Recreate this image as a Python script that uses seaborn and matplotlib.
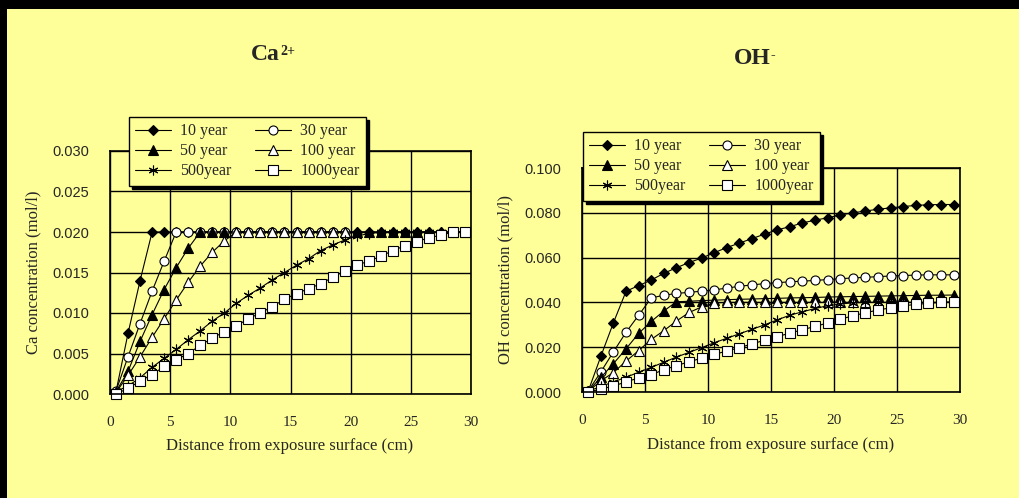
import matplotlib
matplotlib.use("Agg")
import matplotlib.pyplot as plt
import seaborn as sns
from matplotlib.patches import Rectangle
from matplotlib.ticker import FormatStrFormatter

# ---------------------------------------------------------------- data
# depth of each computed point (cm)
depth = [0.5, 1.5, 2.5, 3.5, 4.5, 5.5, 6.5, 7.5, 8.5, 9.5,
         10.5, 11.5, 12.5, 13.5, 14.5, 15.5, 16.5, 17.5, 18.5, 19.5,
         20.5, 21.5, 22.5, 23.5, 24.5, 25.5, 26.5, 27.5, 28.5, 29.5]

labels = ["10 year", "30 year", "50 year", "100 year", "500year", "1000year"]

# Ca2+ concentration (mol/l)
ca_10 = [0.0003, 0.0075, 0.0140, 0.0200, 0.0200, 0.0200, 0.0200, 0.0200, 0.0200, 0.0200,
         0.0200, 0.0200, 0.0200, 0.0200, 0.0200, 0.0200, 0.0200, 0.0200, 0.0200, 0.0200,
         0.0200, 0.0200, 0.0200, 0.0200, 0.0200, 0.0200, 0.0200, 0.0200, 0.0200, 0.0200]
ca_30 = [0.0004, 0.0046, 0.0087, 0.0127, 0.0164, 0.0200, 0.0200, 0.0200, 0.0200, 0.0200,
         0.0200, 0.0200, 0.0200, 0.0200, 0.0200, 0.0200, 0.0200, 0.0200, 0.0200, 0.0200]
ca_50 = [0.0003, 0.0028, 0.0065, 0.0098, 0.0129, 0.0156, 0.0180, 0.0200, 0.0200, 0.0200,
         0.0200, 0.0200, 0.0200, 0.0200, 0.0200, 0.0200, 0.0200, 0.0200, 0.0200, 0.0200,
         0.0200, 0.0200, 0.0200, 0.0200, 0.0200, 0.0200, 0.0200, 0.0200, 0.0200, 0.0200]
ca_100 = [0.0002, 0.0023, 0.0046, 0.0070, 0.0093, 0.0116, 0.0138, 0.0158, 0.0175, 0.0189,
          0.0200, 0.0200, 0.0200, 0.0200, 0.0200, 0.0200, 0.0200, 0.0200, 0.0200, 0.0200]
ca_500 = [0.0003, 0.0010, 0.0020, 0.0033, 0.0044, 0.0055, 0.0067, 0.0078, 0.0090, 0.0100,
          0.0112, 0.0122, 0.0131, 0.0141, 0.0150, 0.0159, 0.0167, 0.0177, 0.0184, 0.0190,
          0.0195, 0.0198, 0.0200, 0.0200, 0.0200, 0.0200, 0.0200, 0.0200, 0.0200, 0.0200]
ca_1000 = [0.0000, 0.0007, 0.0016, 0.0024, 0.0034, 0.0042, 0.0050, 0.0060, 0.0069, 0.0077,
           0.0084, 0.0093, 0.0100, 0.0108, 0.0117, 0.0124, 0.0130, 0.0136, 0.0144, 0.0152,
           0.0159, 0.0164, 0.0170, 0.0177, 0.0183, 0.0188, 0.0193, 0.0196, 0.0200, 0.0200]

# OH- concentration (mol/l)
oh_10 = [0.0005, 0.0160, 0.0310, 0.0450, 0.0475, 0.0500, 0.0530, 0.0555, 0.0578, 0.0598,
         0.0622, 0.0645, 0.0665, 0.0685, 0.0705, 0.0724, 0.0738, 0.0755, 0.0767, 0.0778,
         0.0790, 0.0800, 0.0808, 0.0816, 0.0822, 0.0828, 0.0833, 0.0836, 0.0837, 0.0837]
oh_30 = [0.0005, 0.0090, 0.0180, 0.0267, 0.0343, 0.0420, 0.0432, 0.0440, 0.0445, 0.0450,
         0.0456, 0.0464, 0.0472, 0.0478, 0.0484, 0.0488, 0.0492, 0.0495, 0.0498, 0.0502,
         0.0506, 0.0509, 0.0512, 0.0515, 0.0518, 0.0520, 0.0522, 0.0523, 0.0523, 0.0523]
oh_50 = [0.0005, 0.0065, 0.0127, 0.0193, 0.0262, 0.0315, 0.0362, 0.0403, 0.0405, 0.0408,
         0.0410, 0.0412, 0.0414, 0.0415, 0.0417, 0.0418, 0.0420, 0.0421, 0.0422, 0.0424,
         0.0425, 0.0426, 0.0427, 0.0428, 0.0429, 0.0430, 0.0431, 0.0432, 0.0432, 0.0433]
oh_100 = [0.0003, 0.0050, 0.0087, 0.0138, 0.0185, 0.0235, 0.0274, 0.0317, 0.0355, 0.0380,
          0.0398, 0.0400, 0.0400, 0.0400, 0.0400, 0.0400, 0.0400, 0.0400, 0.0400, 0.0400,
          0.0400, 0.0400, 0.0400, 0.0400, 0.0400, 0.0400, 0.0400, 0.0400, 0.0400, 0.0400]
oh_500 = [0.0003, 0.0025, 0.0045, 0.0066, 0.0088, 0.0110, 0.0133, 0.0156, 0.0177, 0.0198,
          0.0220, 0.0240, 0.0260, 0.0280, 0.0300, 0.0322, 0.0343, 0.0358, 0.0373, 0.0385,
          0.0393, 0.0398, 0.0400, 0.0400, 0.0400, 0.0400, 0.0400, 0.0400, 0.0400, 0.0400]
oh_1000 = [0.0000, 0.0013, 0.0027, 0.0045, 0.0063, 0.0078, 0.0099, 0.0118, 0.0135, 0.0151,
           0.0168, 0.0183, 0.0198, 0.0215, 0.0231, 0.0247, 0.0263, 0.0278, 0.0293, 0.0308,
           0.0325, 0.0340, 0.0354, 0.0366, 0.0376, 0.0385, 0.0391, 0.0396, 0.0400, 0.0403]

x_ticks = [0, 5, 10, 15, 20, 25, 30]
ca_ticks = [0.000, 0.005, 0.010, 0.015, 0.020, 0.025, 0.030]
oh_ticks = [0.000, 0.020, 0.040, 0.060, 0.080, 0.100]

# ---------------------------------------------------------------- style
BG = "#FFFF99"
W, H = 1020, 498

sns.set_theme(style="white", rc={"axes.facecolor": BG, "figure.facecolor": BG})
plt.rcParams["font.family"] = ["Liberation Serif", "DejaVu Serif"]

marker_styles = {
    "10 year": dict(marker="D", markersize=5.0, markerfacecolor="black"),
    "30 year": dict(marker="o", markersize=6.5, markerfacecolor="white"),
    "50 year": dict(marker="^", markersize=7.0, markerfacecolor="black"),
    "100 year": dict(marker="^", markersize=7.0, markerfacecolor="white"),
    "500year": dict(marker=(6, 2, 0), markersize=7.0, markerfacecolor="black"),
    "1000year": dict(marker="s", markersize=7.0, markerfacecolor="white"),
}
# two-column legend, filled row by row
legend_order = ["10 year", "50 year", "500year", "30 year", "100 year", "1000year"]

fig = plt.figure(figsize=(W / 100, H / 100), dpi=100)
fig.patch.set_facecolor(BG)
# dark frame along the top and left edges
fig.add_artist(Rectangle((0, 1 - 9 / H), 1, 9 / H, transform=fig.transFigure,
                         facecolor="black", edgecolor="none", zorder=20))
fig.add_artist(Rectangle((0, 0), 7 / W, 1, transform=fig.transFigure,
                         facecolor="black", edgecolor="none", zorder=20))


def px_box(left, top, right, bottom):
    return [left / W, 1 - bottom / H, (right - left) / W, (bottom - top) / H]


def draw_panel(ax, series, yticks, ylim, legend_xy):
    handles = {}
    for label in labels:
        y = series[label]
        sns.lineplot(x=depth[:len(y)], y=y, ax=ax, color="black", linewidth=0.8,
                     markeredgecolor="black", markeredgewidth=0.8,
                     sort=False, errorbar=None, legend=False, clip_on=False,
                     **marker_styles[label])
        handles[label] = ax.lines[-1]
    ax.set_xlim(0, 30)
    ax.set_ylim(*ylim)
    ax.set_xticks(x_ticks)
    ax.set_yticks(yticks)
    ax.yaxis.set_major_formatter(FormatStrFormatter("%.3f"))
    ax.set_xlabel("")
    ax.set_ylabel("")
    ax.grid(True, color="black", linewidth=1.0)
    ax.set_axisbelow(True)
    for sp in ax.spines.values():
        sp.set_visible(True)
        sp.set_color("black")
        sp.set_linewidth(1.2)
    ax.tick_params(axis="x", length=0, pad=16, labelsize=11)
    ax.tick_params(axis="y", length=0, pad=15, labelsize=10.5)
    for t in ax.get_yticklabels():
        t.set_fontfamily("Liberation Sans")
    leg = ax.legend([handles[k] for k in legend_order], legend_order, ncol=2,
                    loc="upper left", bbox_to_anchor=(legend_xy[0] / W, 1 - legend_xy[1] / H),
                    bbox_transform=fig.transFigure, borderaxespad=0,
                    frameon=True, fancybox=False, shadow={"color": "black", "alpha": 1},
                    facecolor=BG, edgecolor="black", framealpha=1, fontsize=11.5,
                    handlelength=2.2, handletextpad=0.6, columnspacing=1.5,
                    labelspacing=0.25, borderpad=0.4)
    leg.get_frame().set_linewidth(1.0)


ax_ca = fig.add_axes(px_box(110, 151, 471, 394))
ax_oh = fig.add_axes(px_box(582, 168, 960, 392))

draw_panel(ax_ca, dict(zip(labels, [ca_10, ca_30, ca_50, ca_100, ca_500, ca_1000])),
           ca_ticks, (0, 0.030), (129, 117))
draw_panel(ax_oh, dict(zip(labels, [oh_10, oh_30, oh_50, oh_100, oh_500, oh_1000])),
           oh_ticks, (0, 0.100), (583, 132))


def ion_title(x, y, base, charge):
    """Bold ion symbol with a small raised charge right after it."""
    t = fig.text(x / W, 1 - y / H, base, fontsize=17, fontweight="bold",
                 ha="right", va="center")
    ax_ca.annotate(charge, xy=(1.0, 0.98), xycoords=t, ha="left", va="top",
                   fontsize=10, fontweight="bold", annotation_clip=False)


ion_title(280, 55, "Ca", "2+")
ion_title(771, 59, "OH", "-")

# axis titles
fig.text(290 / W, 1 - 446 / H, "Distance from exposure surface (cm)", fontsize=12,
         ha="center", va="center")
fig.text(771 / W, 1 - 445 / H, "Distance from exposure surface (cm)", fontsize=12,
         ha="center", va="center")
fig.text(33 / W, 1 - 272 / H, "Ca concentration (mol/l)", fontsize=12,
         rotation=90, ha="center", va="center")
fig.text(505 / W, 1 - 280 / H, "OH concentration (mol/l)", fontsize=12,
         rotation=90, ha="center", va="center")

fig.savefig("out.png", dpi=100, facecolor=BG)
